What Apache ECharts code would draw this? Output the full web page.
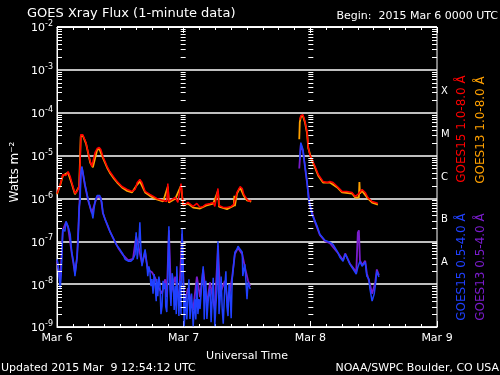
<!doctype html>
<html lang="en">
  <head>
    <meta charset="UTF-8" />
    <title>GOES Xray Flux</title>
    <script src="https://cdn.jsdelivr.net/npm/echarts@6/dist/echarts.min.js"></script>
    <style>
      * { margin: 0; padding: 0; }
      html, body, #chart { width: 100%; height: 100%; background: #000; overflow: hidden; }
    </style>
  </head>
  <body>
    <div id="chart"></div>
  </body>
  <script>
    // [hours since 2015 Mar 6 00:00 UTC, flux W/m^2]; [h, null] marks the data gap
    const goes15Long = [
      [0.0, 1.31e-6], [0.6, 2.12e-6], [1.1, 3.61e-6], [1.7, 3.43e-6], [2.1, 4.25e-6], [2.5, 3.25e-6],
      [2.8, 2.36e-6], [3.4, 1.31e-6], [3.8, 1.46e-6], [4.2, 2.0e-6], [4.4, 8.07e-6], [4.5, 3.08e-5],
      [4.9, 3.08e-5], [5.1, 2.62e-5], [5.5, 2.0e-5], [5.9, 1.17e-5], [6.3, 7.24e-6], [6.6, 5.55e-6],
      [6.8, 5.7e-6], [7.2, 1.17e-5], [7.6, 1.46e-5], [8.0, 1.54e-5], [8.3, 1.38e-5], [8.7, 9.5e-6],
      [9.5, 5.55e-6], [10.0, 4.25e-6], [10.8, 3.08e-6], [11.4, 2.49e-6], [12.3, 1.9e-6], [13.3, 1.62e-6],
      [14.2, 1.46e-6], [14.8, 1.62e-6], [15.2, 2.36e-6], [15.7, 2.77e-6], [16.1, 2.36e-6], [16.7, 1.46e-6],
      [17.6, 1.24e-6], [18.9, 1.0e-6], [20.1, 8.98e-7], [20.8, 8.5e-7], [21.0, 2.23e-6], [21.2, 8.5e-7],
      [21.8, 9.5e-7], [22.4, 1.05e-6], [22.9, 8.07e-7], [23.5, 2.23e-6], [23.9, 7.25e-7], [24.3, 7.25e-7],
      [24.8, 8.07e-7], [25.8, 6.5e-7], [26.5, 7.65e-7], [27.1, 6.18e-7], [27.7, 6.5e-7], [28.2, 7.25e-7],
      [29.0, 7.65e-7], [29.6, 8.07e-7], [29.9, 6.5e-7], [30.5, 1.71e-6], [30.7, 6.85e-7], [31.5, 6.18e-7],
      [32.2, 6.18e-7], [33.0, 6.5e-7], [33.5, 7.25e-7], [34.1, 1.38e-6], [34.7, 1.9e-6], [35.1, 1.71e-6],
      [35.4, 1.24e-6], [36.0, 9.5e-7], [36.4, 8.5e-7], [36.8, 9.0e-7],
      [41, null],
      [46.0, 6.87e-5], [46.2, 8.5e-5], [46.6, 8.98e-5], [46.8, 8.5e-5], [47.0, 6.18e-5], [47.4, 3.43e-5],
      [47.6, 1.62e-5], [47.9, 1.05e-5], [48.3, 8.07e-6], [48.9, 5.55e-6], [49.5, 3.61e-6], [50.4, 2.49e-6],
      [51.2, 2.36e-6], [51.7, 2.49e-6], [52.3, 2.36e-6], [53.1, 1.9e-6], [54.0, 1.46e-6], [54.9, 1.46e-6],
      [55.9, 1.38e-6], [56.5, 1.11e-6], [57.0, 1.24e-6], [57.8, 1.62e-6], [58.4, 1.38e-6], [58.9, 1.05e-6],
      [59.7, 8.5e-7], [60.3, 8.07e-7], [60.8, 7.65e-7]
    ];
    const goes13Long = [
      [0.0, 1.25e-6], [0.6, 2.0e-6], [1.1, 3.4e-6], [2.1, 4.0e-6], [2.8, 2.2e-6], [3.4, 1.25e-6],
      [4.2, 1.9e-6], [4.5, 2.8e-5], [4.9, 2.9e-5], [5.5, 1.9e-5], [6.3, 6.8e-6], [6.8, 5.3e-6],
      [7.6, 1.35e-5], [8.0, 1.45e-5], [8.7, 8.8e-6], [9.5, 5.2e-6], [10.0, 4.0e-6], [10.8, 2.9e-6],
      [11.4, 2.35e-6], [12.3, 1.8e-6], [13.3, 1.5e-6], [14.2, 1.38e-6], [15.2, 2.1e-6], [15.7, 2.5e-6],
      [16.7, 1.38e-6], [17.6, 1.15e-6], [18.9, 9.5e-7], [20.1, 8.5e-7], [21.0, 1.9e-6], [21.2, 8.0e-7],
      [22.4, 9.8e-7], [23.5, 2.0e-6], [23.9, 6.8e-7], [24.8, 7.6e-7], [25.8, 6.1e-7], [27.1, 5.8e-7],
      [28.2, 6.8e-7], [29.6, 7.6e-7], [30.5, 1.5e-6], [30.7, 6.4e-7], [32.2, 5.6e-7], [33.5, 6.8e-7],
      [33.6, 1.15e-6], [33.7, 6.6e-7], [34.1, 1.3e-6], [34.7, 1.8e-6], [35.4, 1.15e-6], [36.0, 9.0e-7],
      [36.8, 8.4e-7],
      [41, null],
      [45.9, 2.4e-5], [46.0, 6.0e-5], [46.2, 8.0e-5], [46.6, 8.4e-5], [47.0, 5.8e-5], [47.4, 3.2e-5],
      [47.6, 1.5e-5], [48.3, 7.6e-6], [48.9, 5.2e-6], [49.5, 3.4e-6], [50.4, 2.35e-6], [51.7, 2.35e-6],
      [53.1, 1.8e-6], [54.0, 1.38e-6], [55.9, 1.3e-6], [56.5, 1.05e-6], [57.2, 1.05e-6], [57.3, 2.4e-6],
      [57.4, 1.3e-6], [57.8, 1.5e-6], [58.9, 1.0e-6], [59.7, 8.0e-7], [60.8, 7.2e-7]
    ];
    const goes15Short = [
      [0.0, 3.81e-8], [0.2, 2.92e-8], [0.6, 7.65e-9], [0.8, 1.71e-8], [0.9, 3.81e-8], [1.1, 1.9e-7],
      [1.5, 1.71e-7], [1.7, 2.92e-7], [2.1, 2.23e-7], [2.5, 1.46e-7], [2.8, 5.55e-8], [3.2, 2.92e-8],
      [3.4, 1.54e-8], [3.6, 2.49e-8], [3.8, 4.48e-8], [4.0, 1.0e-7], [4.2, 6.18e-7], [4.4, 9.5e-7],
      [4.5, 3.61e-6], [4.7, 5.55e-6], [4.9, 4.25e-6], [5.3, 2.12e-6], [5.5, 1.62e-6], [5.9, 9.5e-7],
      [6.3, 6.18e-7], [6.6, 4.72e-7], [6.8, 3.43e-7], [7.2, 8.5e-7], [7.6, 1.17e-6], [8.1, 1.17e-6],
      [8.3, 1.11e-6], [8.5, 8.07e-7], [8.7, 4.72e-7], [9.1, 3.25e-7], [9.7, 2.23e-7], [10.0, 1.71e-7],
      [10.6, 1.24e-7], [11.2, 8.5e-8], [11.6, 7.25e-8], [11.9, 6.5e-8], [12.5, 4.99e-8], [12.9, 3.81e-8],
      [13.5, 3.43e-8], [14.0, 3.43e-8], [14.4, 3.81e-8], [14.8, 4.99e-8], [15.0, 1.62e-7], [15.2, 3.81e-8],
      [15.5, 8.5e-8], [15.7, 2.77e-7], [15.9, 6.5e-8], [16.1, 2.62e-8], [16.5, 4.99e-8], [16.7, 6.5e-8],
      [17.1, 2.23e-8], [17.2, 1.54e-8], [17.4, 2.6e-8], [17.6, 2.0e-8], [17.8, 9.0e-9], [18.0, 1.31e-8],
      [18.2, 6.0e-9], [18.4, 1.71e-8], [18.6, 8.98e-9], [18.8, 4.0e-9], [18.9, 1.31e-8], [19.1, 5.26e-9],
      [19.3, 1.5e-8], [19.5, 1.0e-8], [19.7, 2.0e-9], [19.9, 3.08e-9], [20.1, 1.2e-8], [20.3, 7.65e-9],
      [20.5, 1.05e-8], [20.6, 3.0e-9], [20.8, 2.23e-9], [21.0, 1.5e-8], [21.2, 2.23e-7], [21.4, 7.65e-9],
      [21.6, 3.08e-9], [21.8, 1.8e-8], [22.0, 1.31e-8], [22.2, 2.5e-9], [22.4, 8.98e-9], [22.6, 2.0e-9],
      [22.7, 2.62e-8], [22.9, 6.0e-9], [23.1, 1.8e-9], [23.3, 1.2e-8], [23.5, 2.0e-9], [23.7, 1.9e-7],
      [23.9, 2.23e-8], [24.1, 1.05e-9], [24.4, 5.85e-9], [24.6, 1.5e-9], [24.8, 4.48e-9], [25.0, 1.3e-8],
      [25.2, 1.54e-9], [25.5, 6.0e-9], [25.8, 1.05e-9], [26.1, 4.48e-9], [26.3, 1.5e-9], [26.5, 1.1e-8],
      [26.7, 2.0e-9], [26.9, 4.48e-9], [27.1, 2.62e-9], [27.4, 9.0e-9], [27.7, 2.62e-8], [27.9, 1.5e-9],
      [28.0, 4.48e-9], [28.2, 1.2e-8], [28.4, 1.54e-9], [28.7, 5.0e-9], [29.0, 7.65e-9], [29.2, 1.3e-9],
      [29.4, 4.48e-9], [29.6, 1.4e-8], [29.9, 1.05e-9], [30.1, 3.0e-9], [30.3, 7.65e-9], [30.5, 1.0e-7],
      [30.7, 2.0e-9], [30.9, 4.48e-9], [31.1, 1.5e-8], [31.3, 2.62e-9], [31.5, 1.2e-9], [31.8, 8.98e-9],
      [32.0, 2.0e-8], [32.2, 3.0e-9], [32.4, 1.8e-9], [32.6, 1.0e-8], [32.8, 5.85e-9], [33.0, 1.6e-9],
      [33.2, 1.31e-8], [33.7, 5.55e-8], [34.1, 6.5e-8], [34.3, 7.65e-8],
      [34.7, 6.5e-8], [35.1, 5.55e-8], [35.2, 1.54e-8], [35.6, 2.92e-8], [36.0, 4.48e-9], [36.2, 1.1e-8],
      [36.6, 7.65e-9],
      [41, null],
      [46.0, 8.07e-6], [46.2, 2.0e-5], [46.6, 1.38e-5], [47.0, 5.55e-6], [47.4, 2.36e-6], [47.6, 1.11e-6],
      [47.9, 7.25e-7], [48.3, 4.25e-7], [48.9, 2.92e-7], [49.3, 2.23e-7], [49.8, 1.46e-7], [50.8, 1.05e-7],
      [51.7, 9.5e-8], [52.3, 8.5e-8], [53.1, 5.85e-8], [53.6, 4.25e-8], [54.2, 3.43e-8], [54.6, 4.99e-8],
      [54.9, 4.25e-8], [55.5, 2.92e-8], [56.1, 2.23e-8], [56.7, 1.71e-8], [57.0, 2.49e-8], [57.4, 3.43e-8],
      [57.8, 2.62e-8], [58.4, 3.25e-8], [58.7, 1.54e-8], [59.1, 1.31e-8], [59.3, 7.65e-9], [59.7, 4.03e-9],
      [60.1, 5.85e-9], [60.3, 8.98e-9], [60.6, 2.0e-8], [61.0, 1.46e-8]
    ];
    const goes13Short = [
      [0.0, 3.5e-8], [0.6, 1.2e-8], [1.1, 1.8e-7], [1.7, 2.8e-7], [2.1, 2.1e-7], [2.8, 5.2e-8],
      [3.4, 1.8e-8], [3.8, 4.2e-8], [4.2, 5.5e-7], [4.5, 3.4e-6], [4.7, 5.2e-6], [5.3, 2.0e-6],
      [5.9, 9.0e-7], [6.6, 4.5e-7], [7.2, 8.0e-7], [7.6, 1.1e-6], [8.3, 1.05e-6], [8.7, 4.5e-7],
      [9.7, 2.1e-7], [10.6, 1.2e-7], [11.6, 7.0e-8], [12.5, 4.8e-8], [13.5, 3.6e-8], [14.4, 3.9e-8],
      [15.0, 1.3e-7], [15.5, 7.0e-8], [16.1, 3.0e-8], [16.7, 5.5e-8], [17.2, 2.2e-8], [18.0, 1.9e-8],
      [18.6, 1.4e-8], [19.1, 9.0e-9], [19.9, 6.0e-9], [20.5, 1.3e-8], [20.8, 5.0e-9], [21.2, 1.8e-7],
      [21.6, 6.0e-9], [22.4, 1.5e-8], [23.1, 4.0e-9], [23.7, 1.5e-7], [24.1, 3.0e-9], [24.8, 8.0e-9],
      [25.8, 2.5e-9], [26.5, 1.5e-8], [27.1, 5.0e-9], [27.7, 2.2e-8], [28.4, 3.5e-9], [29.0, 1.1e-8],
      [29.9, 2.5e-9], [30.5, 8.0e-8], [30.9, 6.0e-9], [31.8, 1.2e-8], [32.4, 3.5e-9], [33.2, 1.5e-8],
      [33.7, 5.0e-8], [34.3, 7.0e-8], [35.1, 5.0e-8], [35.6, 2.5e-8], [36.2, 1.2e-8], [36.6, 9.0e-9],
      [41, null],
      [45.9, 5.0e-6], [46.2, 1.8e-5], [46.6, 1.3e-5], [47.0, 5.2e-6], [47.4, 2.2e-6], [47.9, 7.0e-7],
      [48.9, 2.8e-7], [49.8, 1.4e-7], [50.8, 1.0e-7], [51.7, 9.0e-8], [53.1, 5.6e-8], [54.2, 3.6e-8],
      [54.6, 5.2e-8], [55.5, 3.0e-8], [56.1, 2.4e-8], [56.7, 1.9e-8], [57.0, 1.6e-7], [57.2, 1.8e-7],
      [57.4, 3.6e-8], [57.8, 2.8e-8], [58.4, 3.5e-8], [58.7, 1.8e-8], [59.3, 1.0e-8], [59.7, 6.0e-9],
      [60.3, 1.1e-8], [60.6, 2.2e-8], [61.0, 1.6e-8]
    ];

    const dayLabels = ['Mar 6', 'Mar 7', 'Mar 8', 'Mar 9'];
    const decades = [-9, -8, -7, -6, -5, -4, -3];
    const mantissas = [2, 3, 4, 5, 6, 7, 8, 9];
    const flareClasses = { '-7.5': 'A', '-6.5': 'B', '-5.5': 'C', '-4.5': 'M', '-3.5': 'X' };
    const legendItems = [
      { text: 'GOES15 1.0-8.0 Å', color: '#ff0000' },
      { text: 'GOES13 1.0-8.0 Å', color: '#ffa000' },
      { text: 'GOES15 0.5-4.0 Å', color: '#2040ff' },
      { text: 'GOES13 0.5-4.0 Å', color: '#7a1ccc' }
    ];

    const font = 'DejaVu Sans';
    const minorTicks = decades.flatMap((d) => mantissas.map((m) => [0, m * Math.pow(10, d)]));

    function hline(x1, x2, y) {
      y = Math.round(y) + 0.5;
      return { type: 'line', shape: { x1: x1, y1: y, x2: x2, y2: y }, style: { stroke: '#fff', lineWidth: 1 } };
    }

    function fluxLine(data, color, width) {
      return {
        type: 'line',
        data: data,
        showSymbol: false,
        symbol: 'none',
        connectNulls: false,
        animation: false,
        lineStyle: { color: color, width: width },
        silent: true
      };
    }

    const rotated = (text, color, x, y) => ({
      type: 'text',
      x: x,
      y: y,
      rotation: Math.PI / 2,
      style: { text: text, fill: color, font: '12px "' + font + '"', textAlign: 'center', textVerticalAlign: 'middle' }
    });

    const option = {
      backgroundColor: '#000',
      animation: false,
      grid: { left: 57, right: 63, top: 27, bottom: 48, show: true, borderColor: '#fff', borderWidth: 1 },
      xAxis: [
        {
          type: 'value', min: 0, max: 72, interval: 24, position: 'bottom',
          axisLine: { lineStyle: { color: '#fff', width: 1 } },
          axisTick: { inside: true, length: 6, lineStyle: { color: '#fff' } },
          minorTick: { show: true, splitNumber: 8, length: 3, lineStyle: { color: '#fff' } },
          splitLine: { show: false },
          axisLabel: { color: '#fff', fontFamily: font, fontSize: 11, margin: 6, formatter: (v) => dayLabels[Math.round(v / 24)] },
          name: 'Universal Time', nameLocation: 'middle', nameGap: 24,
          nameTextStyle: { color: '#fff', fontFamily: font, fontSize: 11 }
        },
        {
          type: 'value', min: 0, max: 72, interval: 24, position: 'top',
          axisLine: { lineStyle: { color: '#fff', width: 1 } },
          axisTick: { inside: true, length: 6, lineStyle: { color: '#fff' } },
          minorTick: { show: true, splitNumber: 8, length: 3, lineStyle: { color: '#fff' } },
          splitLine: { show: false },
          axisLabel: { show: false }
        }
      ],
      yAxis: [
        {
          type: 'log', logBase: 10, min: 1e-9, max: 1e-2, splitNumber: 7, position: 'left',
          axisLine: { lineStyle: { color: '#fff' } },
          axisTick: { show: false },
          splitLine: { show: true, lineStyle: { color: '#fff', width: 1.5 } },
          axisLabel: {
            margin: 4,
            formatter: (v) => '{b|10}{s|' + Math.round(Math.log10(v)) + '}',
            rich: {
              b: { color: '#fff', fontFamily: font, fontSize: 11, lineHeight: 14, verticalAlign: 'bottom' },
              s: { color: '#fff', fontFamily: font, fontSize: 8, lineHeight: 14, verticalAlign: 'top' }
            }
          }
        },
        {
          type: 'value', min: -9, max: -2, interval: 0.5, position: 'right',
          axisLine: { show: false }, axisTick: { show: false }, splitLine: { show: false },
          axisLabel: { color: '#fff', fontFamily: font, fontSize: 10, margin: 4, formatter: (v) => flareClasses[v.toFixed(1)] || '' }
        }
      ],
      series: [
        fluxLine(goes13Long, '#ffa000', 1.8),
        fluxLine(goes15Long, '#ff0000', 1.5),
        fluxLine(goes13Short, '#7a1ccc', 1.8),
        fluxLine(goes15Short, '#2040ff', 1.5),
        {
          type: 'custom',
          data: minorTicks,
          silent: true,
          clip: false,
          z: 5,
          renderItem: (params, api) => {
            const v = api.value(1);
            const l = api.coord([0, v]);
            const r = api.coord([72, v]);
            const d1 = api.coord([24, v]);
            const d2 = api.coord([48, v]);
            return {
              type: 'group',
              children: [
                hline(l[0], l[0] + 5, l[1]),
                hline(r[0] - 5, r[0], r[1]),
                hline(d1[0] - 3, d1[0] + 2, d1[1]),
                hline(d2[0] - 2, d2[0] + 3, d2[1])
              ]
            };
          }
        }
      ],
      graphic: [
        { type: 'text', x: 27, y: 14, style: { text: 'GOES Xray Flux (1-minute data)', fill: '#fff', font: '13px "' + font + '"', textVerticalAlign: 'middle' } },
        { type: 'text', x: 498, y: 16, style: { text: 'Begin:  2015 Mar 6 0000 UTC', fill: '#fff', font: '11px "' + font + '"', textAlign: 'right', textVerticalAlign: 'middle' } },
        rotated('Watts m⁻²', '#fff', 15, 172),
        rotated(legendItems[0].text, legendItems[0].color, 462, 129),
        rotated(legendItems[1].text, legendItems[1].color, 481, 130),
        rotated(legendItems[2].text, legendItems[2].color, 462, 267),
        rotated(legendItems[3].text, legendItems[3].color, 481, 267),
        { type: 'text', x: 1, y: 368, style: { text: 'Updated 2015 Mar  9 12:54:12 UTC', fill: '#fff', font: '11px "' + font + '"', textVerticalAlign: 'middle' } },
        { type: 'text', x: 499, y: 368, style: { text: 'NOAA/SWPC Boulder, CO USA', fill: '#fff', font: '11px "' + font + '"', textAlign: 'right', textVerticalAlign: 'middle' } }
      ]
    };

    const chart = echarts.init(document.getElementById('chart'));
    chart.setOption(option);
  </script>
</html>
